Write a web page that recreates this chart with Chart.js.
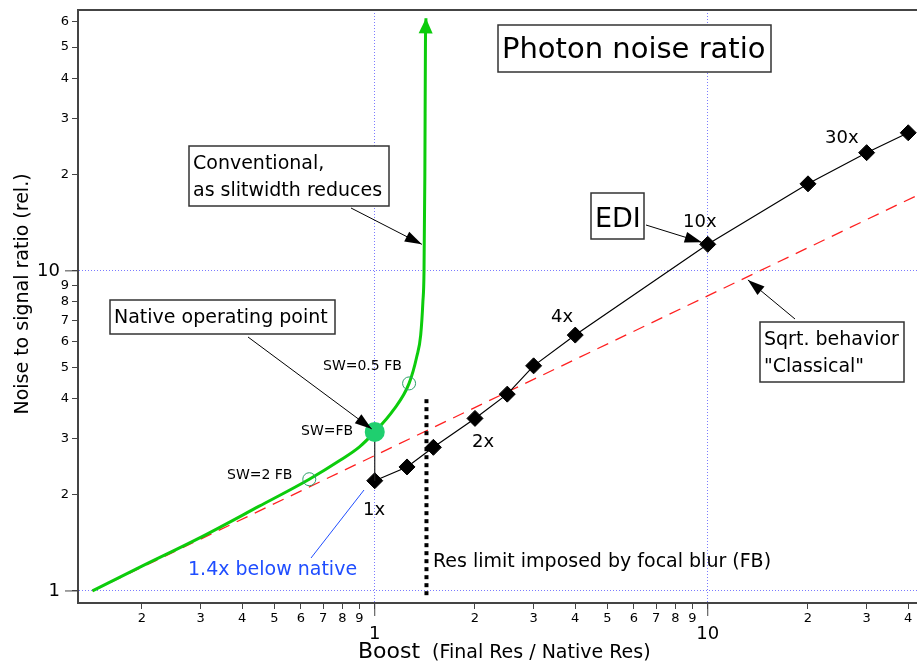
<!DOCTYPE html>
<html>
<head>
<meta charset="utf-8">
<script src="https://cdn.jsdelivr.net/npm/chart.js@4.4.1/dist/chart.umd.min.js"></script>
<style>
  html, body { margin: 0; padding: 0; background: #fff; }
  #wrap { width: 917px; height: 663px; }
</style>
</head>
<body>
<div id="wrap"><canvas id="chart" width="917" height="663"></canvas></div>
<script>
// EDI points (boost, noise ratio)
var ediBoost = [1, 1.25, 1.5, 2, 2.5, 3, 4, 10, 20, 30, 40];
var ediNoise = [2.21, 2.44, 2.81, 3.46, 4.12, 5.05, 6.30, 12.1, 18.7, 23.4, 27.0];

// conventional curve, as slitwidth reduces
var convBoost = [0.142, 0.2, 0.3, 0.45, 0.636, 0.787, 0.9, 1.0, 1.137, 1.268, 1.337, 1.374, 1.395, 1.406, 1.414, 1.42, 1.425];
var convNoise = [1.0, 1.195, 1.47, 1.84, 2.234, 2.56, 2.82, 3.14, 3.67, 4.45, 5.39, 6.3, 8.0, 10, 19.7, 51.4, 61.5];

// slitwidth markers (SW=2 FB, SW=0.5 FB) and native point (SW=FB)
var swBoost = [0.636, 1.268];
var swNoise = [2.234, 4.45];
var nativeBoost = [1];
var nativeNoise = [3.14];

// sqrt "classical" reference
var sqrtBoost = [0.142, 42.5];
var sqrtNoise = [1, 17.2];

// res limit from focal blur
var fbBoost = [1.43, 1.43];
var fbNoise = [0.97, 4.0];

var xTicks = [0.2, 0.3, 0.4, 0.5, 0.6, 0.7, 0.8, 0.9, 1, 2, 3, 4, 5, 6, 7, 8, 9, 10, 20, 30, 40];
var xTickLabels = ['2', '3', '4', '5', '6', '7', '8', '9', '1', '2', '3', '4', '5', '6', '7', '8', '9', '10', '2', '3', '4'];
var yTicks = [1, 2, 3, 4, 5, 6, 7, 8, 9, 10, 20, 30, 40, 50, 60];
var yTickLabels = ['1', '2', '3', '4', '5', '6', '7', '8', '9', '10', '2', '3', '4', '5', '6'];

var FONT = '"DejaVu Sans", Verdana, sans-serif';
var GREEN = '#0ccc0c';

function pts(xs, ys) {
	return xs.map(function(x, i) { return {x: x, y: ys[i]}; });
}
function isMajor(v) { return v === 1 || v === 10; }

function head(ctx, x1, y1, x2, y2, len, half, color) {
	var a = Math.atan2(y2 - y1, x2 - x1);
	var bx = x2 - len * Math.cos(a), by = y2 - len * Math.sin(a);
	ctx.fillStyle = color;
	ctx.beginPath();
	ctx.moveTo(x2, y2);
	ctx.lineTo(bx + half * Math.sin(a), by - half * Math.cos(a));
	ctx.lineTo(bx - half * Math.sin(a), by + half * Math.cos(a));
	ctx.closePath();
	ctx.fill();
}
function arrow(ctx, x1, y1, x2, y2) {
	ctx.strokeStyle = '#000';
	ctx.lineWidth = 1;
	ctx.beginPath();
	ctx.moveTo(x1, y1);
	ctx.lineTo(x2, y2);
	ctx.stroke();
	head(ctx, x1, y1, x2, y2, 17, 5.5, '#000');
}
function box(ctx, x, y, w, h) {
	ctx.fillStyle = '#fff';
	ctx.fillRect(x, y, w, h);
	ctx.strokeStyle = '#333';
	ctx.lineWidth = 1.5;
	ctx.strokeRect(x, y, w, h);
}
function text(ctx, s, x, y, size, color) {
	ctx.font = size + 'px ' + FONT;
	ctx.fillStyle = color || '#000';
	ctx.textAlign = 'left';
	ctx.textBaseline = 'alphabetic';
	ctx.fillText(s, x, y);
}

var notes = {
	id: 'notes',
	afterDraw: function(chart) {
		var ctx = chart.ctx, a = chart.chartArea;
		var xs = chart.scales.x, ys = chart.scales.y;
		function X(v) { return xs.getPixelForValue(v); }
		function Y(v) { return ys.getPixelForValue(v); }
		ctx.save();

		// top frame line
		ctx.strokeStyle = '#444';
		ctx.lineWidth = 2;
		ctx.beginPath();
		ctx.moveTo(a.left - 1, a.top);
		ctx.lineTo(a.right, a.top);
		ctx.stroke();

		// longer ticks at the decades
		ctx.lineWidth = 1;
		[1, 10].forEach(function(v) {
			ctx.beginPath();
			ctx.moveTo(X(v), a.bottom);
			ctx.lineTo(X(v), a.bottom + 13);
			ctx.moveTo(a.left, Y(v));
			ctx.lineTo(a.left - 13, Y(v));
			ctx.stroke();
		});

		// arrowhead on the conventional curve
		var n = convBoost.length;
		head(ctx, X(convBoost[n - 2]), Y(convNoise[n - 2]), X(convBoost[n - 1]), Y(convNoise[n - 1]), 15, 7, GREEN);

		// title
		box(ctx, 498, 25, 273, 47);
		text(ctx, 'Photon noise ratio', 502, 58, 29);

		// conventional note
		box(ctx, 189, 146, 200, 60);
		text(ctx, 'Conventional,', 193, 169, 19);
		text(ctx, 'as slitwidth reduces', 193, 196, 19);
		arrow(ctx, 351, 208, X(1.385), Y(12.1));

		// native note
		box(ctx, 110, 300, 225, 34);
		text(ctx, 'Native operating point', 114, 323, 19);
		arrow(ctx, 248, 337, X(nativeBoost[0]) - 3, Y(nativeNoise[0]) - 3);

		// EDI note
		box(ctx, 591, 193, 53, 46);
		text(ctx, 'EDI', 595, 227, 27);
		arrow(ctx, 646, 225, X(ediBoost[7]) - 6, Y(ediNoise[7]) - 2);

		// sqrt note
		box(ctx, 760, 322, 144, 60);
		text(ctx, 'Sqrt. behavior', 764, 345, 19);
		text(ctx, '"Classical"', 764, 372, 19);
		var sx = 13.2;
		arrow(ctx, 795, 319, X(sx), Y(sqrtNoise[0] * Math.sqrt(sx / sqrtBoost[0])) + 4);

		// point labels
		text(ctx, 'SW=0.5 FB', 323, 370, 14);
		text(ctx, 'SW=FB', 301, 435, 14);
		text(ctx, 'SW=2 FB', 227, 479, 14);
		text(ctx, '1x', 363, 515, 18);
		text(ctx, '2x', 472, 447, 18);
		text(ctx, '4x', 551, 322, 18);
		text(ctx, '10x', 683, 227, 18);
		text(ctx, '30x', 825, 143, 18);
		text(ctx, 'Res limit imposed by focal blur (FB)', 433, 567, 19);

		// 1.4x below native
		ctx.strokeStyle = '#1f4dff';
		ctx.lineWidth = 1;
		ctx.beginPath();
		ctx.moveTo(364, 490);
		ctx.lineTo(311, 558);
		ctx.stroke();
		text(ctx, '1.4x below native', 188, 575, 19, '#1f4dff');

		// axis titles
		text(ctx, 'Boost', 358, 658, 22);
		text(ctx, '(Final Res / Native Res)', 432, 658, 19);
		ctx.translate(28, 294);
		ctx.rotate(-Math.PI / 2);
		ctx.font = '19px ' + FONT;
		ctx.textAlign = 'center';
		ctx.fillStyle = '#000';
		ctx.fillText('Noise to signal ratio (rel.)', 0, 0);
		ctx.restore();
	}
};

function gridColor(c) {
	return (c.tick && isMajor(c.tick.value)) ? '#7b7bff' : 'rgba(0,0,0,0)';
}

var chart = new Chart(document.getElementById('chart'), {
	type: 'line',
	data: {
		datasets: [{
			label: 'Native',
			data: pts(nativeBoost, nativeNoise),
			showLine: false,
			pointRadius: 10,
			pointBackgroundColor: '#1fcf6f',
			pointBorderWidth: 0,
			order: 0
		}, {
			label: 'SW markers',
			data: pts(swBoost, swNoise),
			showLine: false,
			pointRadius: 6.5,
			pointBackgroundColor: 'rgba(0,0,0,0)',
			pointBorderColor: '#2d9f6a',
			pointBorderWidth: 1,
			order: 1
		}, {
			label: 'Conventional',
			data: pts(convBoost, convNoise),
			borderColor: GREEN,
			borderWidth: 3,
			pointRadius: 0,
			cubicInterpolationMode: 'monotone',
			order: 2
		}, {
			label: 'Native to 1x',
			data: pts([nativeBoost[0], ediBoost[0]], [nativeNoise[0], ediNoise[0]]),
			borderColor: '#222',
			borderWidth: 1.2,
			pointRadius: 0,
			order: 3
		}, {
			label: 'EDI',
			data: pts(ediBoost, ediNoise),
			borderColor: '#000',
			borderWidth: 1.2,
			pointStyle: 'rectRot',
			pointRadius: 8,
			pointBackgroundColor: '#000',
			pointBorderColor: '#000',
			pointBorderWidth: 1,
			order: 4
		}, {
			label: 'FB limit',
			data: pts(fbBoost, fbNoise),
			borderColor: '#000',
			borderWidth: 4,
			borderDash: [4, 4],
			pointRadius: 0,
			order: 5
		}, {
			label: 'Sqrt',
			data: pts(sqrtBoost, sqrtNoise),
			borderColor: '#ff2020',
			borderWidth: 1.3,
			borderDash: [12, 8],
			pointRadius: 0,
			order: 6
		}]
	},
	options: {
		responsive: false,
		animation: false,
		layout: { autoPadding: false, padding: { top: 10, right: 0, left: 0, bottom: 0 } },
		plugins: { legend: { display: false }, tooltip: { enabled: false } },
		scales: {
			x: {
				type: 'logarithmic',
				position: 'bottom',
				min: 0.1285,
				max: 42.5,
				bounds: 'data',
				afterBuildTicks: function(s) { s.ticks = xTicks.map(function(v) { return {value: v}; }); },
				afterFit: function(s) { s.height = 60; s.paddingLeft = 0; s.paddingRight = 0; },
				grid: { color: gridColor, lineWidth: 1, tickColor: '#444', tickLength: 6, tickWidth: 1 },
				border: { display: true, color: '#444', width: 2, dash: [1, 2] },
				ticks: {
					autoSkip: false, maxRotation: 0, minRotation: 0, padding: 2, color: '#000',
					font: function(c) {
						return (c.tick && isMajor(c.tick.value)) ? {family: FONT, size: 18, lineHeight: 0.85} : {family: FONT, size: 13};
					},
					callback: function(v, i) { return isMajor(v) ? ['', xTickLabels[i]] : xTickLabels[i]; }
				},
				title: { display: false }
			},
			y: {
				type: 'logarithmic',
				min: 0.917,
				max: 65.3,
				bounds: 'data',
				afterBuildTicks: function(s) { s.ticks = yTicks.map(function(v) { return {value: v}; }); },
				afterFit: function(s) { s.width = 78; s.paddingTop = 0; s.paddingBottom = 0; },
				grid: { color: gridColor, lineWidth: 1, tickColor: '#444', tickLength: 6, tickWidth: 1 },
				border: { display: true, color: '#444', width: 2, dash: [1, 2] },
				ticks: {
					autoSkip: false, padding: 3, color: '#000',
					font: function(c) {
						return (c.tick && isMajor(c.tick.value)) ? {family: FONT, size: 18} : {family: FONT, size: 13};
					},
					callback: function(v, i) { return isMajor(v) ? yTickLabels[i] + '\u2002' : yTickLabels[i]; }
				},
				title: { display: false }
			}
		}
	},
	plugins: [notes]
});
</script>
</body>
</html>
